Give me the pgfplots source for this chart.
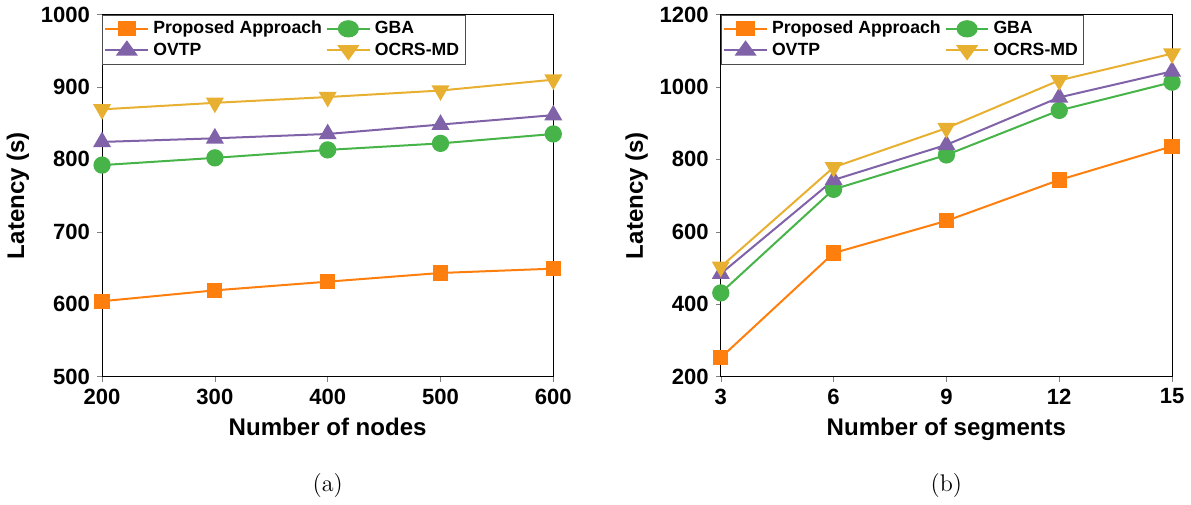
\documentclass[border=0pt]{standalone}
\usepackage{fontspec}
\setmainfont{Liberation Sans}
\newfontfamily\lmr{Latin Modern Roman}
\usepackage{pgfplots}
\pgfplotsset{compat=1.18}
\definecolor{cOr}{RGB}{255,127,14}
\definecolor{cGr}{RGB}{70,180,72}
\definecolor{cPu}{RGB}{128,98,168}
\definecolor{cGo}{RGB}{232,176,48}
\pgfplotsset{
  myax/.style={
    scale only axis, width=225pt, height=180.5pt,
    tick align=outside, xtick pos=bottom, ytick pos=left,
    major tick length=2.5pt,
    /pgf/number format/assume math mode=true,
    /pgf/number format/1000 sep={},
    tick label style={font=\fontsize{11}{13}\selectfont\bfseries},
    label style={font=\fontsize{12}{14}\selectfont\bfseries},
    ylabel={Latency (s)},
    ylabel style={yshift=-1pt},
    clip=false,
    every axis plot/.append style={line width=1pt},
    legend columns=2,
    legend cell align=left,
    legend style={at={(0,1)}, anchor=north west, font=\fontsize{8.8}{10.5}\selectfont\bfseries,
      draw=black!70, inner sep=1pt, row sep=-1pt},
    legend image post style={xscale=1.25},
  },
  pA/.style={cOr, mark=square*, mark size=3.3pt},
  pB/.style={cGr, mark=*, mark size=3.8pt},
  pC/.style={cPu, mark=triangle*, mark size=4.2pt},
  pD/.style={cGo, mark=triangle*, mark size=4.2pt, every mark/.append style={rotate=180}},
}
\begin{document}
\begin{tikzpicture}
\begin{axis}[myax, at={(0,0)}, anchor=south west,
  xmin=200, xmax=600, ymin=500, ymax=1000,
  xtick={200,300,400,500,600}, ytick={500,600,700,800,900,1000},
  xlabel={Number of nodes}]
\addplot[pA] coordinates {(200,604) (300,619) (400,631) (500,643) (600,649)};
\addplot[pB] coordinates {(200,792) (300,802) (400,813) (500,822) (600,835)};
\addplot[pC] coordinates {(200,824) (300,829) (400,835) (500,848) (600,861)};
\addplot[pD] coordinates {(200,869) (300,878) (400,886) (500,895) (600,910)};
\legend{Proposed Approach, GBA, OVTP, OCRS-MD}
\node[font=\lmr\fontsize{12}{14}\selectfont] at (rel axis cs:0.5,0) [yshift=-54.5pt] {(a)};
\end{axis}
\begin{axis}[myax, at={(308.5pt,0)}, anchor=south west,
  xmin=3, xmax=15, ymin=200, ymax=1200,
  xtick={3,6,9,12,15}, ytick={200,400,...,1200},
  xlabel={Number of segments}]
\addplot[pA] coordinates {(3,252) (6,541) (9,630) (12,743) (15,836)};
\addplot[pB] coordinates {(3,431) (6,717) (9,812) (12,935) (15,1013)};
\addplot[pC] coordinates {(3,484) (6,743) (9,840) (12,971) (15,1043)};
\addplot[pD] coordinates {(3,503) (6,778) (9,886) (12,1018) (15,1092)};
\legend{Proposed Approach, GBA, OVTP, OCRS-MD}
\node[font=\lmr\fontsize{12}{14}\selectfont] at (rel axis cs:0.5,0) [yshift=-54.5pt] {(b)};
\end{axis}
\end{tikzpicture}
\end{document}
